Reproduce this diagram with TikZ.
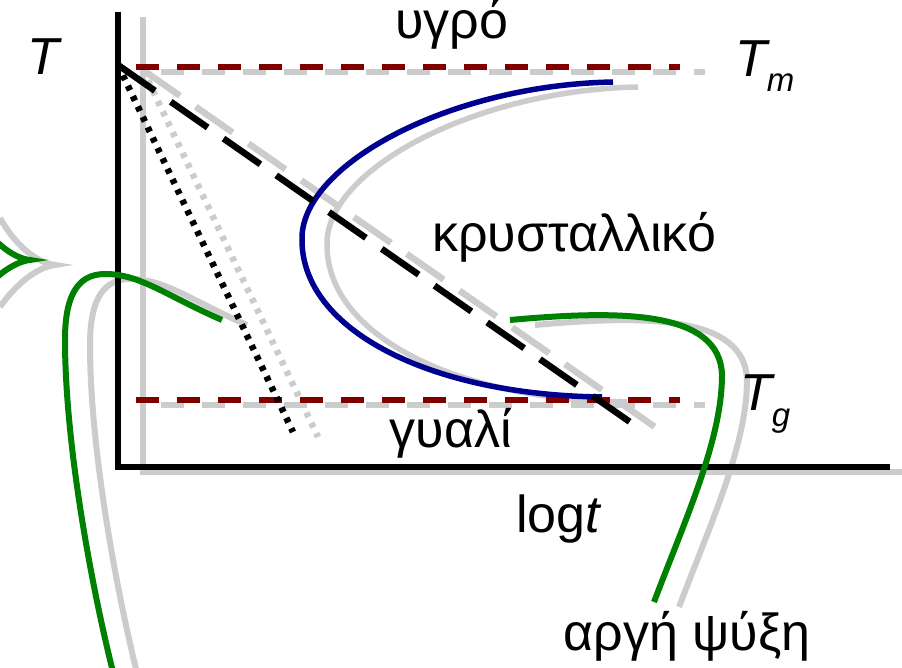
\documentclass[tikz,border=0pt]{standalone}
\usepackage{fontspec}
\setmainfont{Liberation Sans}
\definecolor{shade}{HTML}{CCCCCC}
\definecolor{tred}{HTML}{800000}
\definecolor{cblue}{HTML}{000090}
\definecolor{cgreen}{HTML}{008000}
\tikzset{
  axisline/.style={line width=6.5pt, line join=miter},
  tline/.style={line width=6.5pt, dash pattern=on 23pt off 18pt},
  longdash/.style={line width=6.5pt, dash pattern=on 45pt off 19.3pt},
  dotline/.style={line width=6.5pt, dash pattern=on 5pt off 6.5pt},
  curve/.style={line width=6pt},
  lbl/.style={font=\fontsize{52}{60}\selectfont, inner sep=0pt, anchor=base},
}
\newcommand\figlines{%
  \draw[axisline, draw=\cAx] (118,12) -- (118,467) -- (890,467);
  \draw[tline, draw=\cR] (136,67) -- (680,67);
  \draw[tline, draw=\cR] (136,400) -- (680,400);
  \draw[curve, line width=5.5pt, draw=\cB] (613,82) .. controls (450,85) and (300,165) .. (302,240)
        .. controls (302,330) and (430,395) .. (602,397);
  \draw[longdash, draw=\cAx] (118,65) -- (630,422);
  \draw[dotline, draw=\cAx] (118,65) -- (293,432);
  \draw[curve, draw=\cG] (510,320) .. controls (620,310) and (720,310) .. (722,375)
        .. controls (722,440) and (685,520) .. (654,602);
  \draw[curve, draw=\cG] (222,320) .. controls (165,295) and (140,274) .. (105,274)
        .. controls (75,274) and (65,300) .. (65,340)
        .. controls (65,440) and (90,580) .. (113,672);
  \draw[curve, draw=\cG] (-25,213) .. controls (-10,240) and (12,258) .. (30,260)
        .. controls (12,262) and (-10,280) .. (-25,302);
}
\begin{document}
\begin{tikzpicture}[x=1pt, y=-1pt]
  \useasboundingbox (0,0) rectangle (902,668);
  \clip (0,0) rectangle (902,668);
  \begin{scope}[shift={(25,5)}]
    \def\cAx{shade}\def\cR{shade}\def\cB{shade}\def\cG{shade}
    \figlines
  \end{scope}
  \begin{scope}
    \def\cAx{black}\def\cR{tred}\def\cB{cblue}\def\cG{cgreen}
    \figlines
  \end{scope}
  \node[lbl, anchor=base west] (tlab) at (27,75) {\itshape T};
  \node[lbl, text height=35pt] (liquid) at (452,39) {υγρό};
  \node[lbl] (cryst) at (574,252) {κρυσταλλικό};
  \node[lbl] (glass) at (451,447) {γυαλί};
  \node[lbl] (logt) at (558,532) {log{\itshape t}};
  \node[lbl] (slow) at (687,650) {αργή ψύξη};
  \node[lbl, anchor=base west] (tm) at (735,77) {\itshape T\raisebox{-15pt}{\fontsize{33}{40}\selectfont\itshape m}};
  \node[lbl, anchor=base west] (tg) at (740,410) {\itshape T\raisebox{-16pt}{\fontsize{33}{40}\selectfont\itshape g}};
\end{tikzpicture}
\end{document}
